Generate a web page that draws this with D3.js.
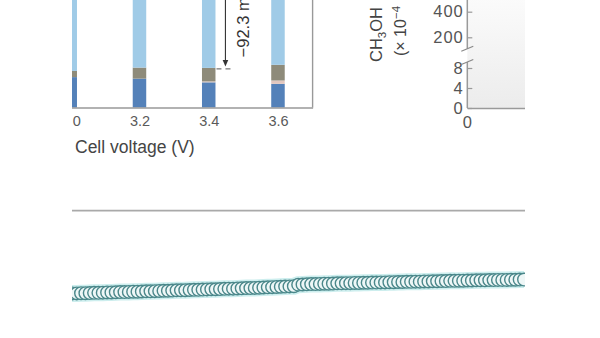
<!DOCTYPE html>
<html>
<head>
<meta charset="utf-8">
<script src="https://cdn.jsdelivr.net/npm/d3@7"></script>
<style>
  body { margin: 0; background: #fff; }
  svg { display: block; font-family: "Liberation Sans", Arial, Helvetica, sans-serif; }
</style>
</head>
<body>
<script>
// ---- data ----
// top left: stacked bars per cell voltage
const voltages = [3.0, 3.2, 3.4, 3.6]
const lowerPart = [9.9, 9.4, 8.2, 7.7]
const thinPart = [0, 0, 0.3, 1.1]
const middlePart = [2.0, 3.6, 4.4, 5.1]
const upperPart = [88.1, 87.0, 87.1, 86.1]
const voltTicks = [3.0, 3.2, 3.4, 3.6]
const dropLabel = "\u221292.3 mA"

// top right: broken y axis
const lowTicks = [0, 4, 8]
const highTicks = [200, 400]

// bottom: stability trace (V) sampled every hour
const traceValues = [
  3.560, 3.561, 3.561, 3.562, 3.562, 3.563, 3.564, 3.564, 3.565, 3.566,
  3.566, 3.567, 3.568, 3.568, 3.569, 3.570, 3.570, 3.571, 3.572, 3.572,
  3.573, 3.574, 3.575, 3.575, 3.576, 3.577, 3.577, 3.578, 3.579, 3.580,
  3.580, 3.581, 3.582, 3.583, 3.583, 3.584, 3.585, 3.586, 3.586, 3.587,
  3.588, 3.589, 3.589, 3.590, 3.591, 3.592, 3.593, 3.594, 3.595, 3.596,
  3.597, 3.598, 3.599,
  3.607, 3.608, 3.609, 3.610, 3.610, 3.611, 3.612, 3.612, 3.613, 3.614,
  3.614, 3.615, 3.615, 3.616, 3.616, 3.617, 3.617, 3.618, 3.618, 3.619,
  3.619, 3.620, 3.620, 3.621, 3.621, 3.622, 3.622, 3.623, 3.623, 3.624,
  3.624, 3.625, 3.625, 3.626, 3.626, 3.627, 3.627, 3.628, 3.628, 3.629,
  3.629, 3.630, 3.630, 3.630, 3.631, 3.631, 3.632, 3.632, 3.632, 3.633,
  3.633, 3.634, 3.634]

const width = 600
const height = 338

const svg = d3.select("body").append("svg")
  .attr("width", width)
  .attr("height", height)

// the figure is a crop, everything lives inside this window
svg.append("clipPath").attr("id", "crop")
  .append("rect").attr("x", 72).attr("y", 0).attr("width", 453).attr("height", height)

const g = svg.append("g").attr("clip-path", "url(#crop)")

// ================= top left: bars =================
const x1 = d3.scaleLinear().domain([2.9, 3.7]).range([35.6, 312.6])
const y1 = d3.scaleLinear().domain([0, 100]).range([107.5, -199.5])
const barW = 13.5

const rows = voltages.map((v, i) => ({
  v: v, lower: lowerPart[i], thin: thinPart[i], middle: middlePart[i], upper: upperPart[i]
}))
const keys = ["lower", "thin", "middle", "upper"]
const colors = { lower: "#5481b9", thin: "#e2c7bf", middle: "#8e8b7a", upper: "#a0cbe7" }
const stacked = d3.stack().keys(keys)(rows)

g.selectAll("g.layer")
  .data(stacked)
  .enter().append("g")
  .attr("class", "layer")
  .attr("fill", d => colors[d.key])
  .selectAll("rect")
  .data(d => d)
  .enter().append("rect")
  .attr("x", d => x1(d.data.v) - barW / 2)
  .attr("width", barW)
  .attr("y", d => y1(d[1]))
  .attr("height", d => y1(d[0]) - y1(d[1]))

// x axis, no tick marks
const xAx1 = g.append("g")
  .attr("transform", "translate(0," + y1(0) + ")")
  .call(d3.axisBottom(x1).tickValues(voltTicks).tickFormat(d3.format(".1f"))
    .tickSize(0).tickPadding(8.5))
xAx1.select(".domain").attr("stroke", "#999").attr("stroke-width", 1.5)
xAx1.selectAll("text").attr("font-size", 14.5).attr("fill", "#5a5a5a").attr("font-family", null)

// right frame
g.append("line")
  .attr("x1", x1.range()[1]).attr("x2", x1.range()[1])
  .attr("y1", -5).attr("y2", y1(0))
  .attr("stroke", "#999").attr("stroke-width", 1.4)

g.append("text")
  .attr("x", 75).attr("y", 153)
  .attr("font-size", 17.5).attr("fill", "#454545")
  .text("Cell voltage (V)")

// drop annotation next to the 3.4 V bar
const iDrop = voltages.indexOf(3.4)
const dropTop = y1(lowerPart[iDrop] + thinPart[iDrop] + middlePart[iDrop])
const arrowX = x1(3.4) + 16.7
g.append("line")
  .attr("x1", x1(3.4) + barW / 2 + 1).attr("x2", x1(3.4) + barW / 2 + 18)
  .attr("y1", dropTop + 1).attr("y2", dropTop + 1)
  .attr("stroke", "#555").attr("stroke-width", 1).attr("stroke-dasharray", "5,4")
g.append("line")
  .attr("x1", arrowX).attr("x2", arrowX)
  .attr("y1", -5).attr("y2", dropTop - 6)
  .attr("stroke", "#333").attr("stroke-width", 1.1)
g.append("path")
  .attr("d", "M" + (arrowX - 2.8) + "," + (dropTop - 8) + " L" + (arrowX + 2.8) + "," + (dropTop - 8) +
    " L" + arrowX + "," + (dropTop - 1.5) + "Z")
  .attr("fill", "#333")
g.append("text")
  .attr("transform", "translate(" + (arrowX + 23.5) + "," + (dropTop - 10.5) + ") rotate(-90)")
  .attr("font-size", 16.5).attr("fill", "#333")
  .text(dropLabel)

// ================= top right: broken axis panel =================
const axX = 467.3
const x2 = d3.scaleLinear().domain([0, 10]).range([axX, 700])
const yLow = d3.scaleLinear().domain([0, 10]).range([108, 58])
const yHigh = d3.scaleLinear().domain([100, 500]).range([50.1, -1.1])

const grad = svg.append("defs").append("linearGradient")
  .attr("id", "panelBg").attr("x1", 0).attr("y1", 0).attr("x2", 0).attr("y2", 1)
grad.append("stop").attr("offset", "0%").attr("stop-color", "#fbfbfb")
grad.append("stop").attr("offset", "100%").attr("stop-color", "#ececec")
g.append("rect")
  .attr("x", axX).attr("y", -2).attr("width", 80).attr("height", yLow(0) + 2)
  .attr("fill", "url(#panelBg)")

function styleAxis(sel) {
  sel.select(".domain").attr("stroke", "#9a9a9a").attr("stroke-width", 1.5)
  sel.selectAll(".tick line").attr("stroke", "#9a9a9a").attr("stroke-width", 1.2)
  sel.selectAll("text").attr("font-size", 16.5).attr("fill", "#555").attr("font-family", null)
    .attr("letter-spacing", 1)
}

const yLowAx = g.append("g").attr("transform", "translate(" + axX + ",0)")
  .call(d3.axisLeft(yLow).tickValues(lowTicks).tickSizeInner(-5).tickSizeOuter(0).tickPadding(3.5))
  .call(styleAxis)
yLowAx.select(".domain").attr("d", "M0," + yLow(0) + "V" + yLow(9.2))

const yHighAx = g.append("g").attr("transform", "translate(" + axX + ",0)")
  .call(d3.axisLeft(yHigh).tickValues(highTicks).tickSizeInner(-5).tickSizeOuter(0).tickPadding(3.5))
  .call(styleAxis)
yHighAx.select(".domain").attr("d", "M0," + yHigh(110) + "V-5")

// break marks
const brk = [yLow(9.2), yHigh(110)]
brk.forEach(yy => {
  g.append("line")
    .attr("x1", axX - 6).attr("x2", axX + 6)
    .attr("y1", yy + 2.5).attr("y2", yy - 2.5)
    .attr("stroke", "#888").attr("stroke-width", 1.2)
})

const xAx2 = g.append("g").attr("transform", "translate(0," + yLow(0) + ")")
  .call(d3.axisBottom(x2).tickValues([0]).tickSize(0).tickPadding(8.5))
  .call(styleAxis)

// rotated y label
const lab1 = g.append("text")
  .attr("transform", "translate(381.5,62) rotate(-90)")
  .attr("font-size", 16.5).attr("fill", "#444")
lab1.append("tspan").text("CH")
lab1.append("tspan").attr("font-size", 11.5).attr("dy", 4).text("3")
lab1.append("tspan").attr("dy", -4).text("OH")

const lab2 = g.append("text")
  .attr("transform", "translate(406,56) rotate(-90)")
  .attr("font-size", 16).attr("fill", "#444")
lab2.append("tspan").text("(\u00D7 10")
lab2.append("tspan").attr("font-size", 11.5).attr("dy", -6).text("\u22124")

// ================= bottom: stability trace =================
g.append("line")
  .attr("x1", 60).attr("x2", 540)
  .attr("y1", 210.7).attr("y2", 210.7)
  .attr("stroke", "#a9a9a9").attr("stroke-width", 1.8)

const x3 = d3.scaleLinear().domain([0, traceValues.length - 1]).range([68, 524])
const y3 = d3.scaleLinear().domain([3.0, 4.0]).range([400, 210])

// faint cyan halo under the markers
g.append("path")
  .datum(traceValues)
  .attr("d", d3.line().x((d, i) => x3(i)).y(d => y3(d)))
  .attr("fill", "none")
  .attr("stroke", "#cdeeee").attr("stroke-width", 17)

g.selectAll("circle.pt")
  .data(traceValues)
  .enter().append("circle")
  .attr("class", "pt")
  .attr("cx", (d, i) => x3(i))
  .attr("cy", d => y3(d))
  .attr("r", 6.3)
  .attr("fill", "#eef7f7")
  .attr("stroke", "#4a878a")
  .attr("stroke-width", 1.4)
</script>
</body>
</html>
